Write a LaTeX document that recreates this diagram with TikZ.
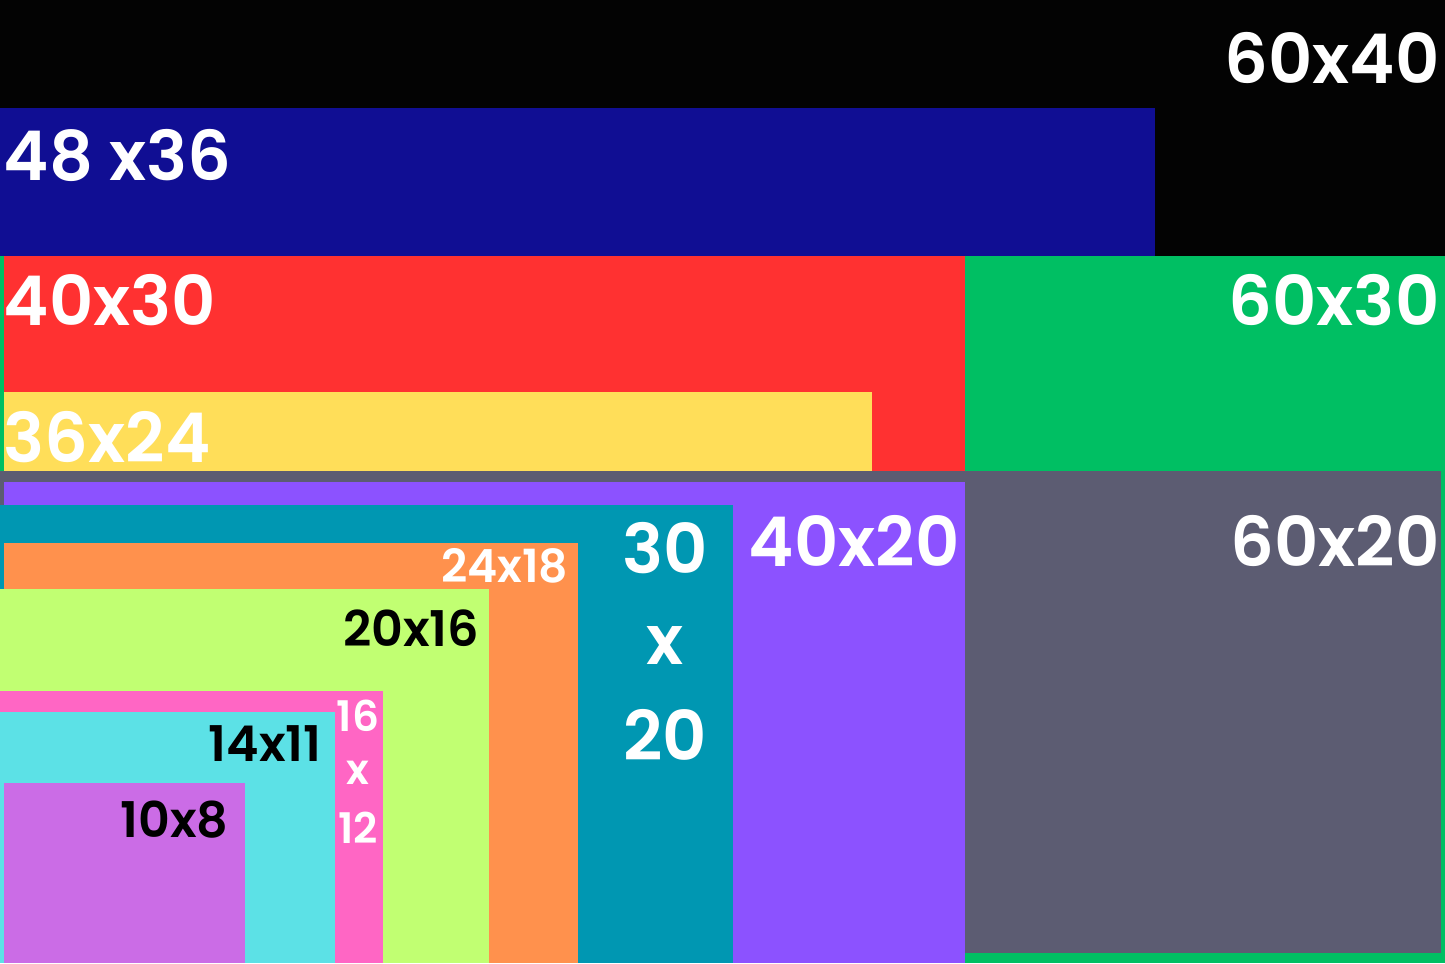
\documentclass[tikz,border=0pt]{standalone}
\usepackage{fontspec}
\setmainfont{Poppins}[BoldFont={Poppins SemiBold}]
\definecolor{c-black}{HTML}{030303}
\definecolor{c-navy}{HTML}{100E93}
\definecolor{c-red}{HTML}{FF3131}
\definecolor{c-yellow}{HTML}{FFDE59}
\definecolor{c-green}{HTML}{00BF63}
\definecolor{c-gray}{HTML}{5C5C72}
\definecolor{c-purple}{HTML}{8C52FF}
\definecolor{c-teal}{HTML}{0097B2}
\definecolor{c-orange}{HTML}{FF914D}
\definecolor{c-lime}{HTML}{C1FF72}
\definecolor{c-pink}{HTML}{FF66C4}
\definecolor{c-cyan}{HTML}{5CE1E6}
\definecolor{c-violet}{HTML}{CB6CE6}
\begin{document}
\begin{tikzpicture}[x=0.01cm,y=-0.01cm]
	\def \leftedge{3}
	\def \rightedge{1440}
	\tikzstyle{big-lbl}=[text=white,font=\fontsize{19.5}{20}\selectfont\bfseries,inner sep=0pt]
	\tikzstyle{mid-lbl}=[text=black,font=\fontsize{14}{15}\selectfont\bfseries,inner sep=0pt]
	\tikzstyle{small-lbl}=[text=white,font=\fontsize{13}{14}\selectfont\bfseries,inner sep=0pt]
	% frames
	\fill[c-black]	(0,0)		rectangle (1445,963);
	\fill[c-navy]	(0,108)		rectangle (1155,256);
	\fill[c-green]	(0,256)		rectangle (1445,963);
	\fill[c-red]	(4,256)		rectangle (965,471);
	\fill[c-yellow]	(4,392)		rectangle (872,471);
	\fill[c-gray]	(0,471)		rectangle (1441,953);
	\fill[c-purple]	(4,482)		rectangle (965,963);
	\fill[c-teal]	(0,505)		rectangle (733,963);
	\fill[c-orange]	(4,543)		rectangle (578,963);
	\fill[c-lime]	(0,589)		rectangle (489,963);
	\fill[c-pink]	(0,691)		rectangle (383,963);
	\fill[c-cyan]	(0,712)		rectangle (335,963);
	\fill[c-violet]	(4,783)		rectangle (245,963);
	
	% labels
	\node[big-lbl,anchor=east]	(f6040)	at (\rightedge,58)	{60x40};
	\node[big-lbl,anchor=west]	(f4836)	at (\leftedge,155)	{48 x36};
	\node[big-lbl,anchor=west]	(f4030)	at (\leftedge,300)	{40x30};
	\node[big-lbl,anchor=east]	(f6030)	at (\rightedge,300)	{60x30};
	\node[big-lbl,anchor=west]	(f3624)	at (\leftedge,437)	{36x24};
	\node[big-lbl,anchor=east]	(f4020)	at (960,541)		{40x20};
	\node[big-lbl,anchor=east]	(f6020)	at (\rightedge,541)	{60x20};
	
	\node[big-lbl]	(f3020a)	at (665,548)	{30};
	\node[big-lbl]	(f3020b)	at (665,645)	{x};
	\node[big-lbl]	(f3020c)	at (665,735)	{20};
	
	\node[small-lbl,anchor=east]	(f2418)	at (569,566)	{24x18};
	\node[mid-lbl,anchor=east]		(f2016)	at (480,628)	{20x16};
	
	\node[small-lbl,font=\fontsize{12}{13}\selectfont\bfseries]	(f1612a)	at (358,716)	{16};
	\node[small-lbl,font=\fontsize{12}{13}\selectfont\bfseries]	(f1612b)	at (358,773)	{x};
	\node[small-lbl,font=\fontsize{12}{13}\selectfont\bfseries]	(f1612c)	at (358,828)	{12};
	
	\node[mid-lbl,anchor=east]	(f1411)	at (322,744)	{14x11};
	\node[mid-lbl,anchor=east]	(f108)	at (229,820)	{10x8};
\end{tikzpicture}
\end{document}
